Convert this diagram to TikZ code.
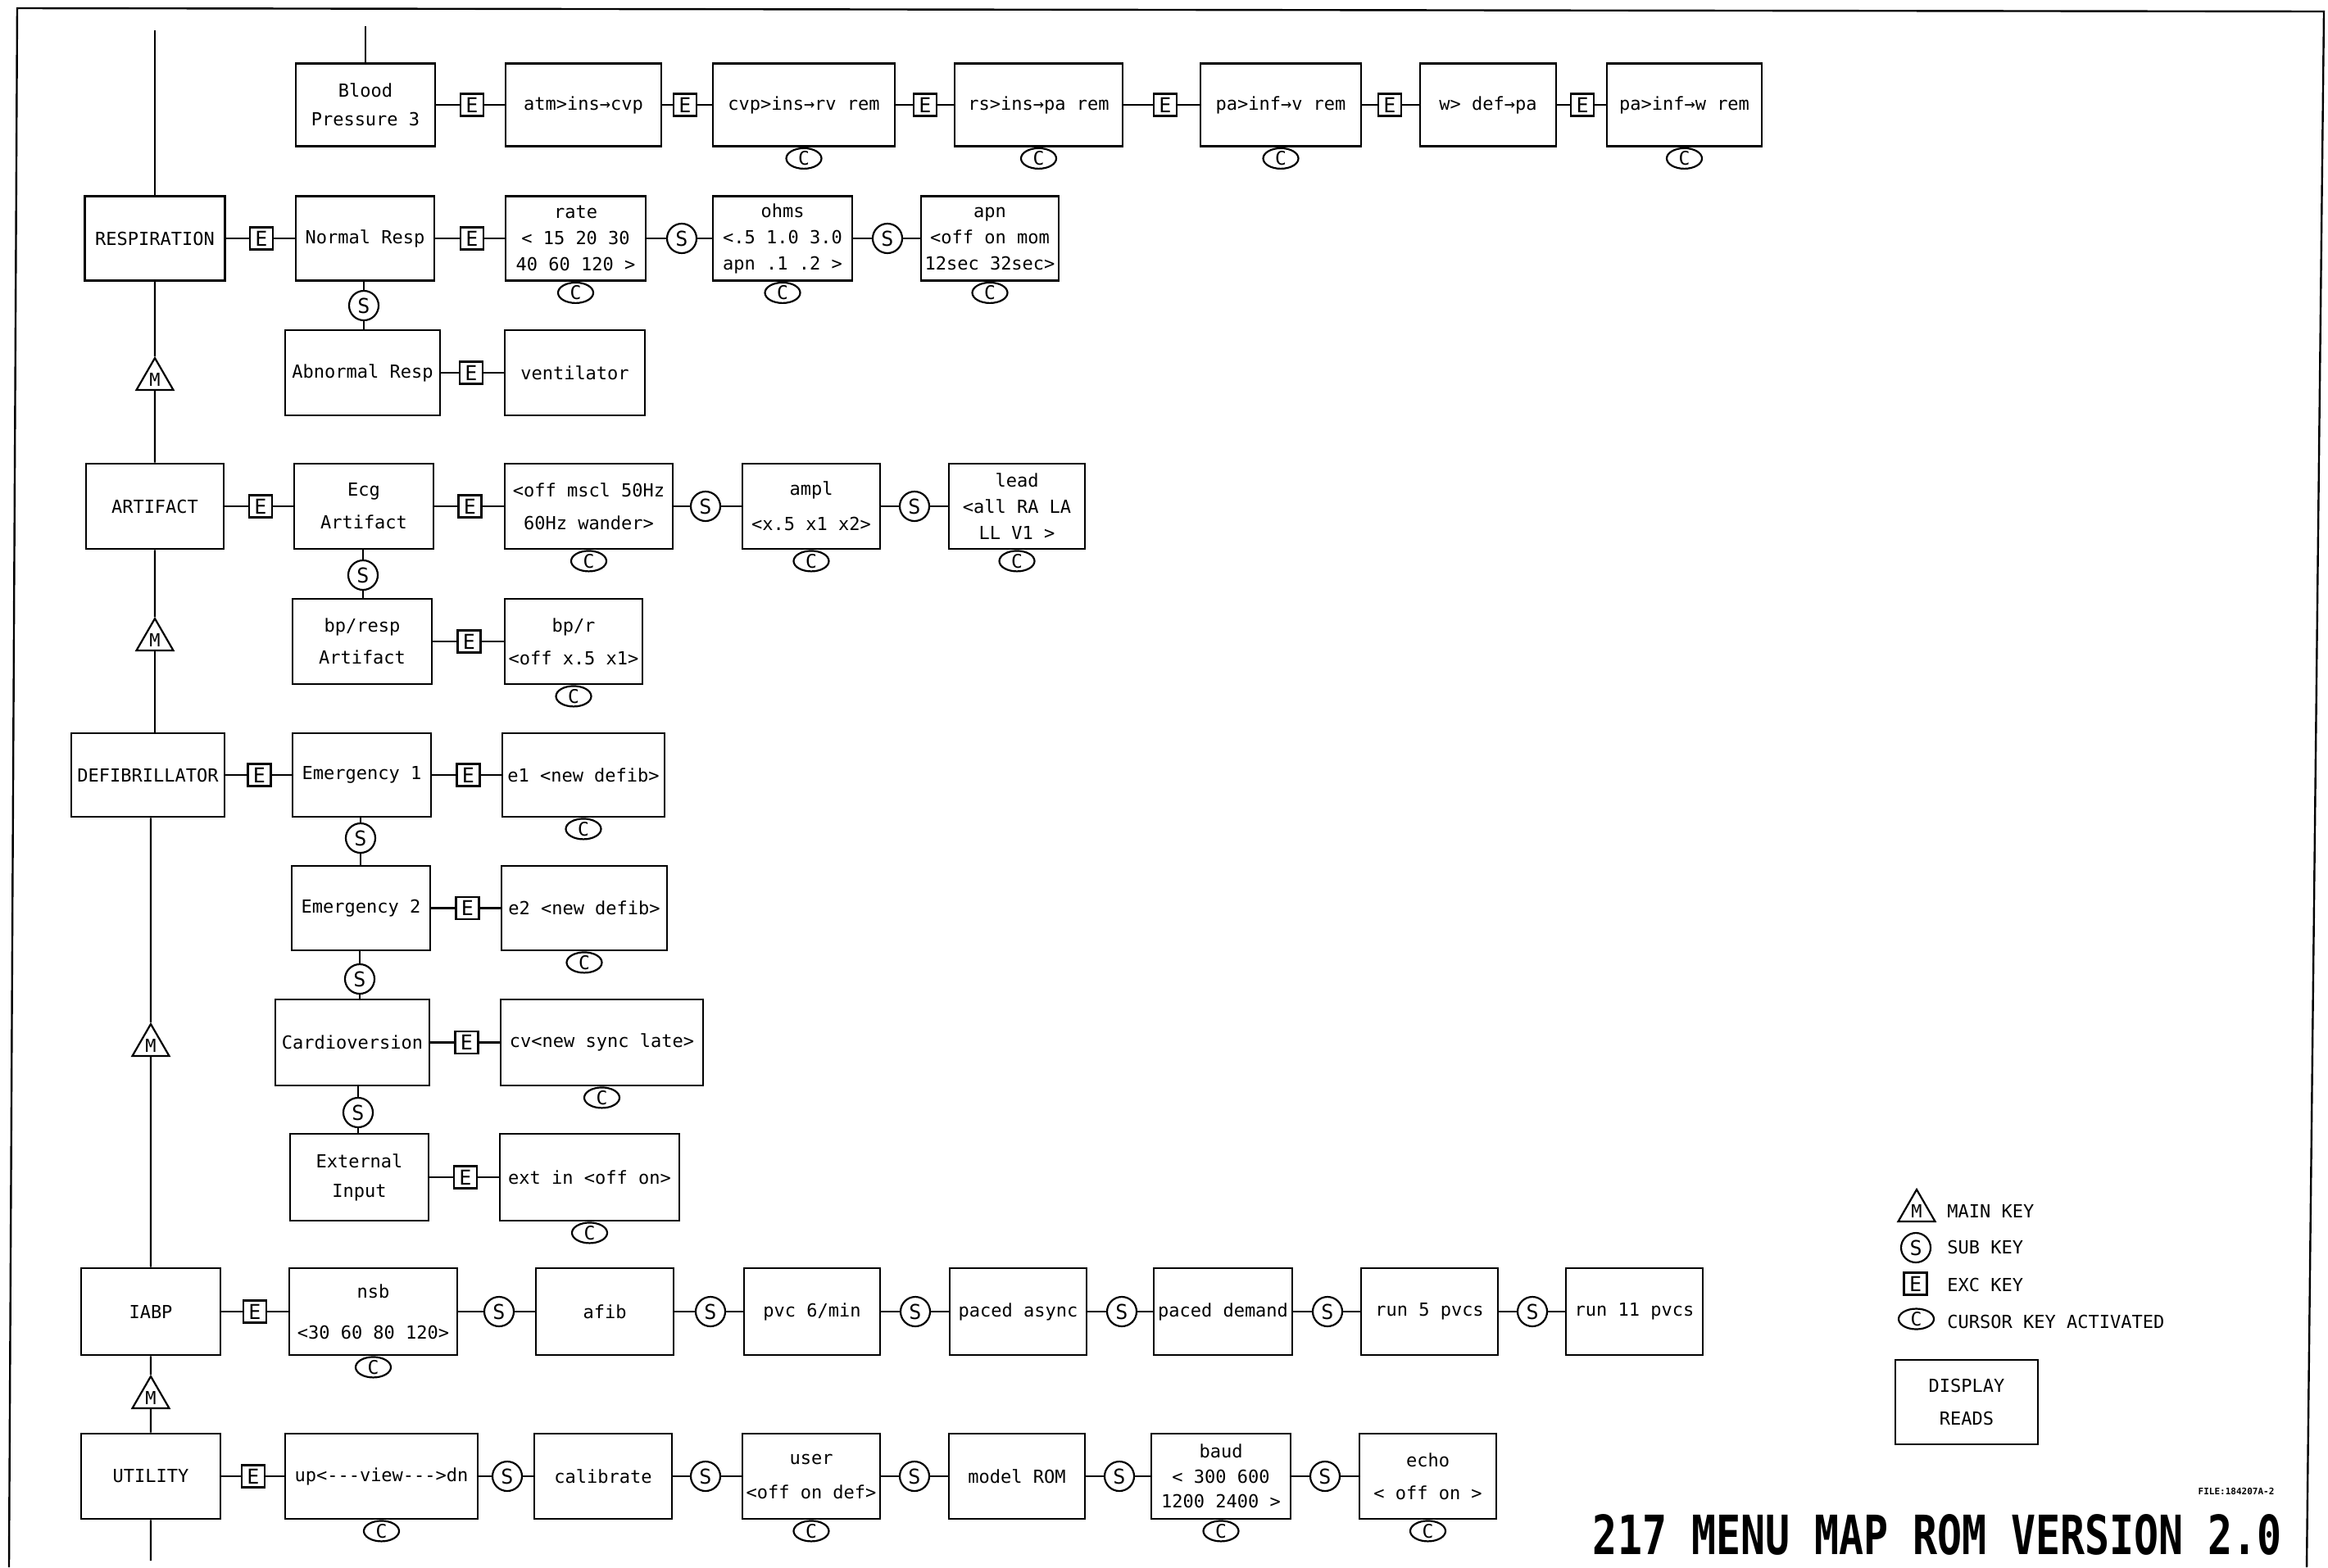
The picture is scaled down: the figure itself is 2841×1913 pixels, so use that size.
\documentclass[tikz,border=0pt]{standalone}
\usepackage{fontspec}
\usepackage{graphicx}
\newfontfamily\bxf{DejaVu Sans Mono}
\usetikzlibrary{shapes.geometric}
\tikzset{
  x=0.5pt, y=-0.5pt,
  box/.style={draw, line width=1.3pt, rectangle, inner sep=0pt, align=center, font=\bxf\fontsize{11}{20}\selectfont},
  ls/.style={font=\bxf\fontsize{11}{#1}\selectfont},
  sz/.style 2 args={minimum width=#1*0.5pt, minimum height=#2*0.5pt},
  ekey/.style={draw, line width=1.1pt, rectangle, fill=white, inner sep=0pt, minimum width=14pt, minimum height=13.5pt, font=\bxf\fontsize{12.5}{14}\selectfont},
  skey/.style={draw, line width=1.1pt, circle, fill=white, inner sep=0pt, minimum size=18pt, font=\bxf\fontsize{12.5}{14}\selectfont},
  ckey/.style={draw, line width=1.1pt, ellipse, fill=white, inner sep=0pt, minimum width=21.5pt, minimum height=12.5pt, label={[font=\bxf\fontsize{11.5}{13}\selectfont, inner sep=0pt]center:C}},
  mkey/.style={draw, line width=1.1pt, regular polygon, regular polygon sides=3, fill=white, inner sep=0pt, minimum size=26pt, font=\bxf\fontsize{11}{12}\selectfont},
  link/.style={line width=1.1pt},
  lgtext/.style={anchor=west, inner sep=0pt, font=\bxf\fontsize{11}{13}\selectfont},
}
\begin{document}
\begin{tikzpicture}
\useasboundingbox (0,0) rectangle (2841,1913);
\fill[white] (0,0) rectangle (2841,1913);
% frame
\draw[line width=1.2pt] (11,1913) -- (21,10) -- (2836,14) -- (2815,1913);

% ---------- Row 1: Blood Pressure 3
\coordinate (bp3top) at (446,32);
\node[box, sz={170}{101}, ls=17.5pt] (bp3) at (446,128) {Blood\\Pressure 3};
\node[ekey] (r1e1) at (576,128) {E};
\node[box, sz={190}{101}] (atm) at (712,128) {atm>ins→cvp};
\node[ekey] (r1e2) at (836,128) {E};
\node[box, sz={222}{101}] (cvp) at (981,128) {cvp>ins→rv rem};
\node[ekey] (r1e3) at (1129,128) {E};
\node[box, sz={205}{101}] (rs) at (1267.5,128) {rs>ins→pa rem};
\node[ekey] (r1e4) at (1422,128) {E};
\node[box, sz={196}{101}] (pav) at (1563,128) {pa>inf→v rem};
\node[ekey] (r1e5) at (1696,128) {E};
\node[box, sz={166}{101}] (wdef) at (1816,128) {w> def→pa};
\node[ekey] (r1e6) at (1931,128) {E};
\node[box, sz={189}{101}] (paw) at (2055.5,128) {pa>inf→w rem};
\node[ckey, anchor=north] (c1a) at (cvp.south) {};
\node[ckey, anchor=north] (c1b) at (rs.south) {};
\node[ckey, anchor=north] (c1c) at (pav.south) {};
\node[ckey, anchor=north] (c1d) at (paw.south) {};
\draw[link] (bp3top) -- (bp3);
\draw[link] (bp3) -- (r1e1) -- (atm) -- (r1e2) -- (cvp) -- (r1e3) -- (rs) -- (r1e4) -- (pav) -- (r1e5) -- (wdef) -- (r1e6) -- (paw);

% ---------- Row 2: Respiration
\node[box, sz={171}{103}] (resp) at (189,291) {RESPIRATION};
\node[ekey] (r2e1) at (319,291) {E};
\node[box, sz={169}{103}] (nresp) at (445.5,291) {Normal Resp};
\node[ekey] (r2e2) at (576,291) {E};
\node[box, sz={171}{103}, ls=16pt] (rate) at (702.5,291) {rate\\< 15 20 30\\40 60 120 >};
\node[skey] (r2s1) at (832,291) {S};
\node[box, sz={170}{103}, ls=16pt] (ohms) at (955,291) {ohms\\<.5 1.0 3.0\\apn .1 .2 >};
\node[skey] (r2s2) at (1083,291) {S};
\node[box, sz={168}{103}, ls=16pt] (apn) at (1208,291) {apn\\<off on mom\\12sec 32sec>};
\node[ckey, anchor=north] (c2a) at (rate.south) {};
\node[ckey, anchor=north] (c2b) at (ohms.south) {};
\node[ckey, anchor=north] (c2c) at (apn.south) {};
\draw[link] (resp) -- (r2e1) -- (nresp) -- (r2e2) -- (rate) -- (r2s1) -- (ohms) -- (r2s2) -- (apn);
\node[skey] (r2s3) at (444,373) {S};
\node[box, sz={189}{104}] (abn) at (442.5,455) {Abnormal Resp};
\node[ekey] (r2e3) at (575,455) {E};
\node[box, sz={171}{104}] (vent) at (701.5,455) {ventilator};
\draw[link] (nresp.south -| r2s3) -- (r2s3) -- (r2s3 |- abn.north);
\draw[link] (abn) -- (r2e3) -- (vent);

% ---------- Row 3: Artifact
\node[box, sz={168}{104}] (art) at (189,618) {ARTIFACT};
\node[ekey] (r3e1) at (318,618) {E};
\node[box, sz={170}{104}] (ecg) at (444,618) {Ecg\\Artifact};
\node[ekey] (r3e2) at (573.5,618) {E};
\node[box, sz={205}{104}] (mscl) at (718.5,618) {<off mscl 50Hz\\60Hz wander>};
\node[skey] (r3s1) at (861,618) {S};
\node[box, sz={168}{104}, ls=21.5pt] (ampl) at (990,618) {ampl\\<x.5 x1 x2>};
\node[skey] (r3s2) at (1116,618) {S};
\node[box, sz={166}{104}, ls=16pt] (lead) at (1241,618) {lead\\<all RA LA\\LL V1 >};
\node[ckey, anchor=north] (c3a) at (mscl.south) {};
\node[ckey, anchor=north] (c3b) at (ampl.south) {};
\node[ckey, anchor=north] (c3c) at (lead.south) {};
\draw[link] (art) -- (r3e1) -- (ecg) -- (r3e2) -- (mscl) -- (r3s1) -- (ampl) -- (r3s2) -- (lead);
\node[skey] (r3s3) at (443,702) {S};
\node[box, sz={170}{104}, ls=19.5pt] (bpresp) at (442,783) {bp/resp\\Artifact};
\node[ekey] (r3e3) at (572.5,783) {E};
\node[box, sz={168}{104}] (bpr) at (700,783) {bp/r\\<off x.5 x1>};
\node[ckey, anchor=north] (c3d) at (bpr.south) {};
\draw[link] (ecg.south -| r3s3) -- (r3s3) -- (r3s3 |- bpresp.north);
\draw[link] (bpresp) -- (r3e3) -- (bpr);

% ---------- Row 4: Defibrillator
\node[box, sz={187}{102}] (defib) at (180.5,946) {DEFIBRILLATOR};
\node[ekey] (r4e1) at (316.5,946) {E};
\node[box, sz={169}{102}] (em1) at (441.5,946) {Emergency 1};
\node[ekey] (r4e2) at (571.5,946) {E};
\node[box, sz={198}{102}] (e1) at (712,946) {e1 <new defib>};
\node[ckey, anchor=north] (c4a) at (e1.south) {};
\draw[link] (defib) -- (r4e1) -- (em1) -- (r4e2) -- (e1);
\node[skey] (r4s1) at (440,1023) {S};
\node[box, sz={169}{103}] (em2) at (440.5,1108.5) {Emergency 2};
\node[ekey] (r4e3) at (570.5,1108.5) {E};
\node[box, sz={202}{103}] (e2) at (713,1108.5) {e2 <new defib>};
\node[ckey, anchor=north] (c4b) at (e2.south) {};
\draw[link] (em1.south -| r4s1) -- (r4s1) -- (r4s1 |- em2.north);
\draw[link] (em2) -- (r4e3) -- (e2);
\node[skey] (r4s2) at (439,1195) {S};
\node[box, sz={188}{105}] (cardio) at (430,1272.5) {Cardioversion};
\node[ekey] (r4e4) at (569.5,1272.5) {E};
\node[box, sz={247}{105}] (cv) at (734.5,1272.5) {cv<new sync late>};
\node[ckey, anchor=north] (c4c) at (cv.south) {};
\draw[link] (em2.south -| r4s2) -- (r4s2) -- (r4s2 |- cardio.north);
\draw[link] (cardio) -- (r4e4) -- (cv);
\node[skey] (r4s3) at (437,1358) {S};
\node[box, sz={169}{106}, ls=18pt] (ext) at (438.5,1437) {External\\Input};
\node[ekey] (r4e5) at (568,1437) {E};
\node[box, sz={219}{106}] (extin) at (719.5,1437) {ext in <off on>};
\node[ckey, anchor=north] (c4d) at (extin.south) {};
\draw[link] (cardio.south -| r4s3) -- (r4s3) -- (r4s3 |- ext.north);
\draw[link] (ext) -- (r4e5) -- (extin);

% ---------- Row 5: IABP
\node[box, sz={170}{106}] (iabp) at (184,1601) {IABP};
\node[ekey] (r5e1) at (311,1601) {E};
\node[box, sz={205}{106}, ls=25pt] (nsb) at (455.5,1601) {nsb\\<30 60 80 120>};
\node[skey] (r5s1) at (609,1601) {S};
\node[box, sz={168}{106}] (afib) at (738,1601) {afib};
\node[skey] (r5s2) at (867,1601) {S};
\node[box, sz={166}{106}] (pvc) at (991,1601) {pvc 6/min};
\node[skey] (r5s3) at (1117,1601) {S};
\node[box, sz={167}{106}] (pasync) at (1242.5,1601) {paced async};
\node[skey] (r5s4) at (1369,1601) {S};
\node[box, sz={169}{106}] (pdem) at (1492.5,1601) {paced demand};
\node[skey] (r5s5) at (1620,1601) {S};
\node[box, sz={167}{106}] (run5) at (1744.5,1601) {run 5 pvcs};
\node[skey] (r5s6) at (1870,1601) {S};
\node[box, sz={167}{106}] (run11) at (1994.5,1601) {run 11 pvcs};
\node[ckey, anchor=north] (c5a) at (nsb.south) {};
\draw[link] (iabp) -- (r5e1) -- (nsb) -- (r5s1) -- (afib) -- (r5s2) -- (pvc) -- (r5s3) -- (pasync) -- (r5s4) -- (pdem) -- (r5s5) -- (run5) -- (r5s6) -- (run11);

% ---------- Row 6: Utility
\node[box, sz={170}{104}] (util) at (184,1802) {UTILITY};
\node[ekey] (r6e1) at (309,1802) {E};
\node[box, sz={235}{104}] (view) at (465.5,1802) {up<-{}-{}-view-{}-{}->dn};
\node[skey] (r6s1) at (619,1802) {S};
\node[box, sz={168}{104}] (calib) at (736,1802) {calibrate};
\node[skey] (r6s2) at (861,1802) {S};
\node[box, sz={168}{104}, ls=21pt] (user) at (990,1802) {user\\<off on def>};
\node[skey] (r6s3) at (1116,1802) {S};
\node[box, sz={166}{104}] (rom) at (1241,1802) {model ROM};
\node[skey] (r6s4) at (1366,1802) {S};
\node[box, sz={170}{104}, ls=15.25pt] (baud) at (1490,1802) {baud\\< 300 600\\1200 2400 >};
\node[skey] (r6s5) at (1617,1802) {S};
\node[box, sz={167}{104}] (echo) at (1742.5,1802) {echo\\< off on >};
\node[ckey, anchor=north] (c6a) at (view.south) {};
\node[ckey, anchor=north] (c6b) at (user.south) {};
\node[ckey, anchor=north] (c6c) at (baud.south) {};
\node[ckey, anchor=north] (c6d) at (echo.south) {};
\draw[link] (util) -- (r6e1) -- (view) -- (r6s1) -- (calib) -- (r6s2) -- (user) -- (r6s3) -- (rom) -- (r6s4) -- (baud) -- (r6s5) -- (echo);

% ---------- Main spine with M keys
\coordinate (spinetop) at (189,37);
\coordinate (spinebot) at (184,1905);
\node[mkey] (m1) at (189,463) {M};
\node[mkey] (m2) at (189,781) {M};
\node[mkey] (m3) at (184,1276) {M};
\node[mkey] (m4) at (184,1706) {M};
\draw[link] (spinetop) -- (resp);
\draw[link] (resp) -- (m1) -- (art) -- (m2);
\draw[link] (m2.south) -- (m2.south |- defib.north);
\draw[link] (defib.south -| m3) -- (m3) -- (iabp) -- (m4) -- (util) -- (spinebot);

% ---------- Legend
\node[mkey] (lgM) at (2339,1478) {M};
\node[skey] (lgS) at (2338,1523) {S};
\node[ekey] (lgE) at (2337.5,1567) {E};
\node[ckey] (lgC) at (2338.5,1610) {};
\node[lgtext] (lgMt) at (2376,1478) {MAIN KEY};
\node[lgtext] (lgSt) at (2376,1522) {SUB KEY};
\node[lgtext] (lgEt) at (2376,1568) {EXC KEY};
\node[lgtext] (lgCt) at (2376,1613) {CURSOR KEY ACTIVATED};
\node[box, sz={174}{103}] (disp) at (2400,1711.5) {DISPLAY\\READS};

% ---------- Title and file tag
\node[inner sep=0pt] (file) at (2729,1820) {\bxf\fontsize{5.5}{6}\selectfont\bfseries FILE:184207A-2};
\node[inner sep=0pt] (title) at (2364.5,1873) {\scalebox{0.756}[1]{\bxf\fontsize{33}{36}\selectfont\bfseries 217 MENU MAP ROM VERSION 2.0}};
\end{tikzpicture}
\end{document}
